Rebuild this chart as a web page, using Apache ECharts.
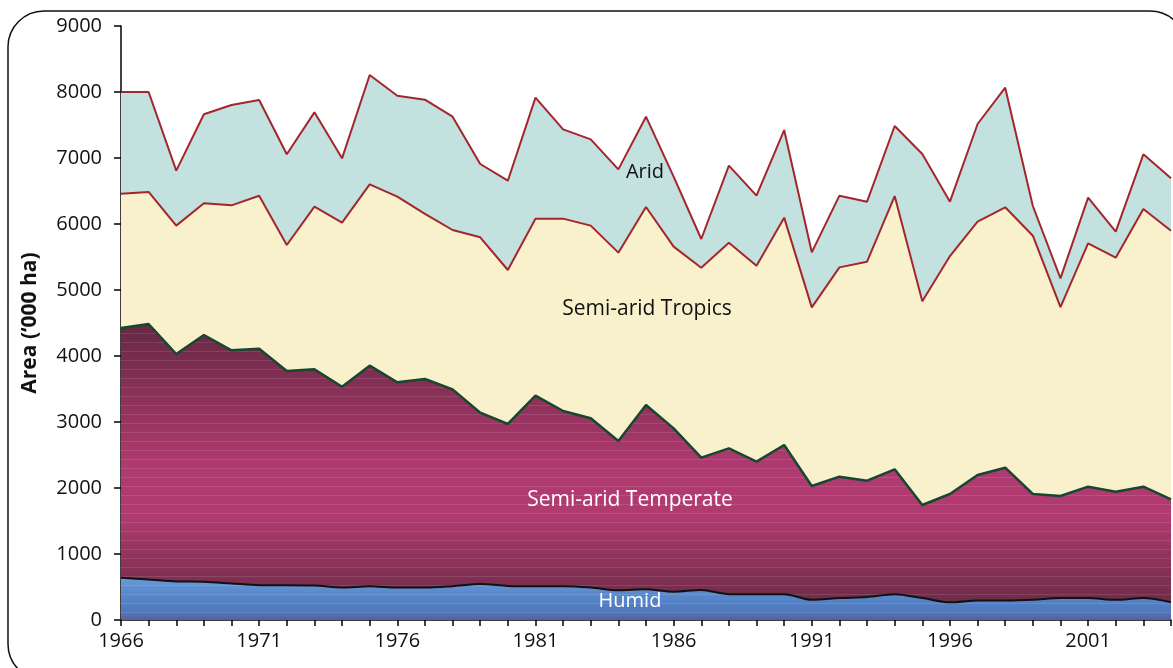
<!DOCTYPE html>
<html>
<head>
<meta charset="utf-8">
<script src="https://cdn.jsdelivr.net/npm/echarts@6/dist/echarts.min.js"></script>
<style>
  html, body { margin: 0; padding: 0; background: #fff; }
  #chart { width: 1173px; height: 668px; }
</style>
</head>
<body>
<div id="chart"></div>
<script>
// years 1966 - 2004
var years = [];
for (var y = 1966; y <= 2004; y++) years.push(String(y));

// area ('000 ha) per zone
var humid = [640,615,585,580,554,527,527,523,491,512,491,491,512,544,517,512,512,491,450,465,
  429,455,391,391,391,305,332,348,391,332,268,294,294,305,332,332,305,332,268];
var temperate = [3784,3870,3445,3738,3532,3584,3246,3275,3044,3342,3110,3161,2983,2597,2453,2887,2655,2565,2262,2793,
  2475,2005,2210,2008,2261,1725,1840,1763,1892,1410,1641,1903,2014,1604,1547,1688,1639,1688,1561];
var tropics = [2035,2000,1945,1995,2197,2318,1909,2464,2485,2747,2813,2500,2414,2657,2333,2682,2914,2919,2854,3000,
  2753,2878,3116,2970,3444,2707,3171,3318,4141,3088,3606,3838,3945,3914,2861,3687,3546,4207,4070];
var arid = [1541,1515,833,1349,1520,1450,1374,1430,975,1657,1530,1732,1717,1111,1353,1833,1353,1308,1262,1368,
  1060,435,1167,1060,1328,834,1086,909,1061,2231,823,1480,1812,450,437,692,394,829,793];

var yTicks = [0,1000,2000,3000,4000,5000,6000,7000,8000,9000];

var chart = echarts.init(document.getElementById('chart'));
var font = 'Open Sans';

// faint horizontal stripes like the original fills
var stripes = {
    symbol: 'rect', symbolSize: 1,
    dashArrayX: [1, 0], dashArrayY: [1, 8],
    rotation: 0, color: 'rgba(255,255,255,0.11)'
};

var option = {
    animation: false,
    grid: { left: 121, right: 2, top: 26, bottom: 48 },
    xAxis: {
        type: 'category',
        boundaryGap: false,
        data: years,
        axisLine: { lineStyle: { color: '#000', width: 1.5 } },
        axisTick: { interval: 0, length: 6, lineStyle: { color: '#000', width: 1.5 } },
        axisLabel: { interval: 4, color: '#111', fontSize: 20, fontFamily: font, margin: 11 },
        splitLine: { show: false }
    },
    yAxis: {
        type: 'value',
        min: yTicks[0],
        max: yTicks[yTicks.length - 1],
        interval: 1000,
        name: 'Area (\u2018000 ha)',
        nameLocation: 'middle',
        nameRotate: 90,
        nameGap: 80,
        nameTextStyle: { color: '#111', fontSize: 21, fontWeight: 'bold', fontFamily: font },
        axisLine: { show: true, lineStyle: { color: '#000', width: 1.5 } },
        axisTick: { show: true, length: 7, lineStyle: { color: '#000', width: 1.5 } },
        axisLabel: { color: '#111', fontSize: 20, fontFamily: font, margin: 19,
            formatter: function (v) { return String(v); } },
        splitLine: { show: false }
    },
    series: [
        {
            name: 'Humid', type: 'line', stack: 'area', data: humid,
            symbol: 'none', smooth: 0.3, z: 5,
            lineStyle: { color: '#111', width: 2 },
            itemStyle: { color: '#5585C8', decal: stripes },
            areaStyle: {
                opacity: 1,
                color: { type: 'linear', x: 0, y: 575, x2: 0, y2: 620, global: true,
                    colorStops: [
                        { offset: 0, color: '#6C9BD9' },
                        { offset: 0.5, color: '#5686C9' },
                        { offset: 0.85, color: '#4F75B9' },
                        { offset: 1, color: '#5A5C9F' }
                    ] }
            }
        },
        {
            name: 'Semi-arid Temperate', type: 'line', stack: 'area', data: temperate,
            symbol: 'none', z: 4,
            lineStyle: { color: '#17472F', width: 2.5 },
            itemStyle: { color: '#B03A70', decal: stripes },
            areaStyle: {
                opacity: 1,
                color: { type: 'linear', x: 0, y: 325, x2: 0, y2: 605, global: true,
                    colorStops: [
                        { offset: 0, color: '#662943' },
                        { offset: 0.25, color: '#8A3158' },
                        { offset: 0.5, color: '#AF3A6F' },
                        { offset: 0.68, color: '#B13B71' },
                        { offset: 0.85, color: '#8C3259' },
                        { offset: 1, color: '#6B2C46' }
                    ] }
            }
        },
        {
            name: 'Semi-arid Tropics', type: 'line', stack: 'area', data: tropics,
            symbol: 'none', z: 3,
            lineStyle: { color: '#A3262E', width: 2 },
            itemStyle: { color: '#F9F0CC' },
            areaStyle: { color: '#F9F0CC', opacity: 1 }
        },
        {
            name: 'Arid', type: 'line', stack: 'area', data: arid,
            symbol: 'none', z: 2,
            lineStyle: { color: '#A3262E', width: 2 },
            itemStyle: { color: '#C3E1DE' },
            areaStyle: { color: '#C3E1DE', opacity: 1 }
        }
    ],
    graphic: [
        { type: 'rect', z: 0, silent: true,
          shape: { x: 8, y: 11, width: 1178, height: 669, r: 36 },
          style: { fill: 'none', stroke: '#111', lineWidth: 1.5 } },
        { type: 'text', z: 10, x: 645, y: 172,
          style: { text: 'Arid', fill: '#111', font: '20px "Open Sans"', align: 'center', verticalAlign: 'middle' } },
        { type: 'text', z: 10, x: 647, y: 309,
          style: { text: 'Semi-arid Tropics', fill: '#111', font: '21px "Open Sans"', align: 'center', verticalAlign: 'middle' } },
        { type: 'text', z: 10, x: 630, y: 500,
          style: { text: 'Semi-arid Temperate', fill: '#fff', font: '21px "Open Sans"', align: 'center', verticalAlign: 'middle' } },
        { type: 'text', z: 10, x: 630, y: 601,
          style: { text: 'Humid', fill: '#fff', font: '20px "Open Sans"', align: 'center', verticalAlign: 'middle' } }
    ]
};
chart.setOption(option);
</script>
</body>
</html>
